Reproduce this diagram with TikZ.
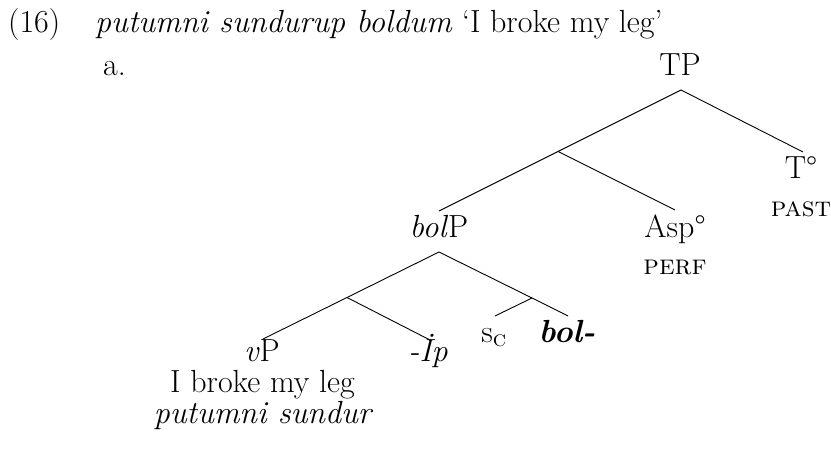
\documentclass[tikz,border=0pt]{standalone}
\usepackage{fontspec}
\begin{document}
\begin{tikzpicture}[x=1pt,y=-1pt,
  lbl/.style={inner sep=0pt, anchor=base, font=\fontsize{32}{38}\selectfont},
  sclbl/.style={inner sep=0pt, anchor=base, font=\fontsize{28}{34}\selectfont\scshape},
  br/.style={line width=0.9pt}]
\useasboundingbox (0,0) rectangle (831,454);
% heading
\node[lbl, anchor=base west] (ex) at (8,33) {(16)};
\node[lbl, anchor=base west] (gl) at (95,33) {\textit{putumni sundurup boldum} `I broke my leg'};
\node[lbl, anchor=base west] (sub) at (103,76) {a.};
% labels
\node[lbl] (TP) at (680,76) {TP};
\node[lbl] (T) at (801,179) {T\textdegree};
\node[sclbl] (past) at (801,217) {past};
\node[lbl] (bolP) at (439,238) {\textit{bol}P};
\node[lbl] (Asp) at (675,238) {Asp\textdegree};
\node[sclbl] (perf) at (675,275) {perf};
\node[lbl] (vP) at (262,362) {\textit{v}P};
\node[lbl] (Ip) at (428,362) {\textit{-İp}};
\node[lbl] (sc) at (494,343) {s\textsubscript{\textsc{c}}};
\node[lbl] (bol) at (567,343) {\textbf{\textit{bol-}}};
\node[lbl] (gloss) at (262.5,393) {I broke my leg};
\node[lbl] (form) at (263.5,424) {\textit{putumni sundur}};
% branch points
\coordinate (TPa) at (681,90);
\coordinate (Tend) at (803,152);
\coordinate (X) at (558,151.5);
\coordinate (bolPtop) at (439,211);
\coordinate (Aspend) at (675,210);
\coordinate (bolPa) at (439,252);
\coordinate (Y) at (347,297.5);
\coordinate (vPend) at (263,339);
\coordinate (Ipend) at (430,340);
\coordinate (bolend) at (568,316);
\coordinate (Z) at (532,298);
\coordinate (scend) at (495,316);
% branches
\draw[br] (TPa) -- (Tend);
\draw[br] (TPa) -- (X) -- (bolPtop);
\draw[br] (X) -- (Aspend);
\draw[br] (bolPa) -- (Y) -- (vPend);
\draw[br] (Y) -- (Ipend);
\draw[br] (bolPa) -- (Z) -- (bolend);
\draw[br] (Z) -- (scend);
\end{tikzpicture}
\end{document}
